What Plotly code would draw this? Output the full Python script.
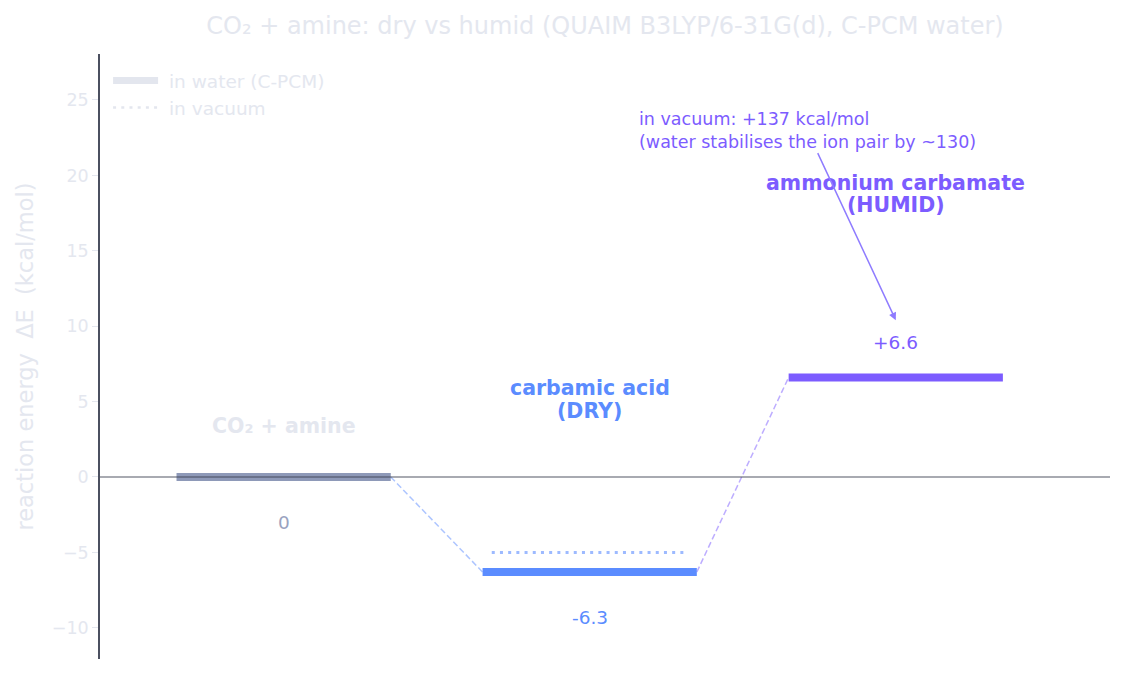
import plotly.graph_objects as go

# ---- data ----
states = ["CO₂ + amine", "carbamic acid<br>(DRY)", "ammonium carbamate<br>(HUMID)"]
water_dE = [0.0, -6.3, 6.6]          # kcal/mol, C-PCM water
vacuum_dE = [0.0, -5.0, 137.0]       # kcal/mol, vacuum
value_labels = ["0", "-6.3", "+6.6"]
state_colors = ["#8e99b8", "#5b8cff", "#7c5cff"]
value_colors = ["#9aa3c0", "#5b8cff", "#7c5cff"]
name_colors = ["#e4e7ef", "#5b8cff", "#7c5cff"]

FONT = "DejaVu Sans"
LIGHT = "#e4e7ef"
HW = 0.35      # half width of water level
HWV = 0.32     # half width of vacuum level
DOT = "3px,5.2px"

fig = go.Figure()

# connectors (dashed)
conn_colors = ["rgba(91,140,255,0.5)", "rgba(124,92,255,0.5)"]
for i in range(len(water_dE) - 1):
    fig.add_trace(go.Scatter(
        x=[i + HW, i + 1 - HW], y=[water_dE[i], water_dE[i + 1]],
        mode="lines", line=dict(color=conn_colors[i], width=1.5, dash="6px,3px"),
        showlegend=False, hoverinfo="skip"))

# vacuum levels (dotted)
for i, v in enumerate(vacuum_dE):
    fig.add_trace(go.Scatter(
        x=[i - HWV, i + HWV], y=[v, v], mode="lines",
        line=dict(color="rgba(91,140,255,0.6)" if i == 1 else state_colors[i], width=3, dash=DOT),
        showlegend=False, hoverinfo="skip"))

# water levels (thick)
for i, v in enumerate(water_dE):
    fig.add_trace(go.Scatter(
        x=[i - HW, i + HW], y=[v, v], mode="lines",
        line=dict(color=state_colors[i], width=8),
        showlegend=False, hoverinfo="skip"))

# legend dummies
fig.add_trace(go.Scatter(x=[None], y=[None], mode="lines", name="\u00a0in water (C-PCM)",
                         line=dict(color="#e3e6ee", width=7)))
fig.add_trace(go.Scatter(x=[None], y=[None], mode="lines", name="\u00a0in vacuum",
                         line=dict(color="#e3e6ee", width=2.5, dash=DOT)))

# zero line
fig.add_shape(type="line", xref="paper", yref="y", x0=0, x1=1, y0=0, y1=0,
              line=dict(color="rgba(60,65,80,0.6)", width=1.5), layer="above")

# value labels
for i, v in enumerate(water_dE):
    y = v + 2.35 if v > 0 else v - 3.0
    fig.add_annotation(x=i, y=y, text=value_labels[i], showarrow=False,
                       font=dict(family=FONT, size=18.5, color=value_colors[i]),
                       xanchor="center", yanchor="middle")

# state names (each line placed separately for tighter line spacing)
name_y = [3.38, 5.14, 18.77]
LINE_PX = 22.5
for i, n in enumerate(states):
    lines = n.split("<br>")
    for k, line in enumerate(lines):
        fig.add_annotation(x=i, y=name_y[i], text="<b>" + line + "</b>", showarrow=False,
                           yshift=((len(lines) - 1) / 2 - k) * LINE_PX,
                           font=dict(family=FONT, size=20.5, color=name_colors[i]),
                           xanchor="center", yanchor="middle")

# vacuum annotation
fig.add_annotation(x=2, y=10.4, ax=1.71, ay=23.0, axref="x", ayref="y",
                   text="in vacuum: +137 kcal/mol<br>(water stabilises the ion pair by ~130)",
                   showarrow=True, arrowhead=2, arrowsize=1, arrowwidth=1.5,
                   arrowcolor="#8f7cff", align="left",
                   font=dict(family=FONT, size=17.5, color="#7c5cff"))

fig.update_layout(
    width=1125, height=674,
    margin=dict(l=92, r=23, t=46, b=23),
    plot_bgcolor="white", paper_bgcolor="white",
    font=dict(family=FONT, color=LIGHT),
    title=dict(text="CO₂ + amine: dry vs humid (QUAIM B3LYP/6-31G(d), C-PCM water)",
               x=0.5, xref="paper", xanchor="center", y=0.974, yanchor="middle",
               font=dict(family=FONT, size=24, color=LIGHT)),
    legend=dict(x=0.008, y=0.987, xanchor="left", yanchor="top",
                bgcolor="rgba(0,0,0,0)", font=dict(family=FONT, size=18.5, color=LIGHT),
                tracegroupgap=0, itemwidth=45),
    showlegend=True,
)
fig.update_xaxes(visible=False, range=[-0.6, 2.7])
fig.update_yaxes(range=[-12.07, 28.05], showgrid=False, zeroline=False,
                 showline=True, linecolor="#4b5060", linewidth=1.5,
                 ticks="outside", ticklen=6, tickcolor=LIGHT, tickwidth=1,
                 tickvals=[-10, -5, 0, 5, 10, 15, 20, 25],
                 tickfont=dict(family=FONT, size=17.5, color=LIGHT),
                 title=dict(text="reaction energy  ΔE  (kcal/mol)", standoff=12,
                            font=dict(family=FONT, size=22.5, color=LIGHT)))

fig.write_html("out.html")
